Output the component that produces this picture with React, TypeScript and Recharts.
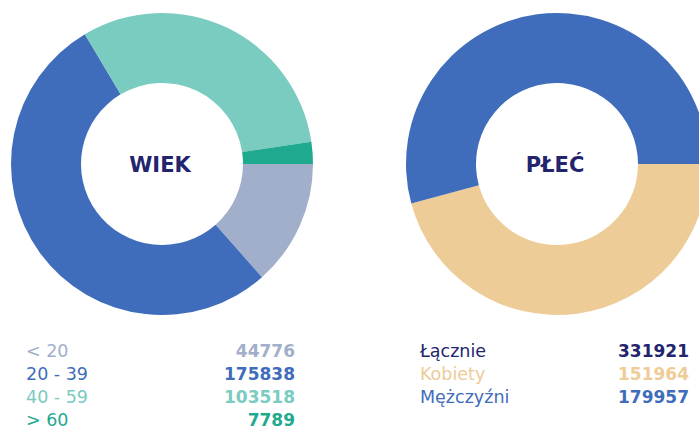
import { Cell, Pie, PieChart } from "recharts";

const ageLabels = ["< 20", "20 - 39", "40 - 59", "> 60"];
const ageValues = [44776, 175838, 103518, 7789];
const ageColors = ["#a1afcb", "#3f6dbb", "#7acbc0", "#1fa98f"];

const sexLabels = ["Kobiety", "Mężczyźni"];
const sexValues = [151964, 179957];
const sexColors = ["#edcc97", "#3f6dbb"];

const totalLabel = "Łącznie";
const totalValue = 331921;
const NAVY = "#23246e";

const ageData = ageLabels.map((name, i) => ({ name, value: ageValues[i] }));
const sexData = sexLabels.map((name, i) => ({ name, value: sexValues[i] }));

const FONT = "'DejaVu Sans', sans-serif";

type Row = { label: string; value: number; color: string };

function LegendBlock({ rows, left, right, top }: { rows: Row[]; left: number; right: number; top: number }) {
  return (
    <div style={{ position: "absolute", left, top, width: right - left, fontFamily: FONT }}>
      {rows.map((r) => (
        <div
          key={r.label}
          style={{ display: "flex", justifyContent: "space-between", height: 23, lineHeight: "23px", fontSize: 17.5 }}
        >
          <span style={{ color: r.color, fontWeight: 400 }}>{r.label}</span>
          <span style={{ color: r.color, fontWeight: 700, fontSize: 17 }}>{r.value}</span>
        </div>
      ))}
    </div>
  );
}

export default function App() {
  const ageRows = ageLabels.map((l, i) => ({ label: l, value: ageValues[i], color: ageColors[i] }));
  const sexRows: Row[] = [
    { label: totalLabel, value: totalValue, color: NAVY },
    ...sexLabels.map((l, i) => ({ label: l, value: sexValues[i], color: sexColors[i] })),
  ];

  return (
    <div style={{ position: "fixed", left: 0, top: 0, width: 699, height: 430, background: "#fff", overflow: "hidden" }}>
      <PieChart width={699} height={330} margin={{ top: 0, right: 0, bottom: 0, left: 0 }}>
        <Pie
          data={ageData}
          dataKey="value"
          nameKey="name"
          cx={162}
          cy={164}
          innerRadius={81}
          outerRadius={151}
          startAngle={0}
          endAngle={-360}
          stroke="none"
          isAnimationActive={false}
        >
          {ageData.map((d, i) => (
            <Cell key={d.name} fill={ageColors[i]} />
          ))}
        </Pie>
        <Pie
          data={sexData}
          dataKey="value"
          nameKey="name"
          cx={557}
          cy={164}
          innerRadius={81}
          outerRadius={151}
          startAngle={0}
          endAngle={-360}
          stroke="none"
          isAnimationActive={false}
        >
          {sexData.map((d, i) => (
            <Cell key={d.name} fill={sexColors[i]} />
          ))}
        </Pie>
        <text x={160} y={165} textAnchor="middle" dominantBaseline="central" fill={NAVY} fontFamily={FONT} fontWeight={700} fontSize={21}>
          WIEK
        </text>
        <text x={555} y={165} textAnchor="middle" dominantBaseline="central" fill={NAVY} fontFamily={FONT} fontWeight={700} fontSize={21}>
          PŁEĆ
        </text>
      </PieChart>
      <LegendBlock rows={ageRows} left={26} right={295} top={340} />
      <LegendBlock rows={sexRows} left={420} right={689} top={340} />
    </div>
  );
}
